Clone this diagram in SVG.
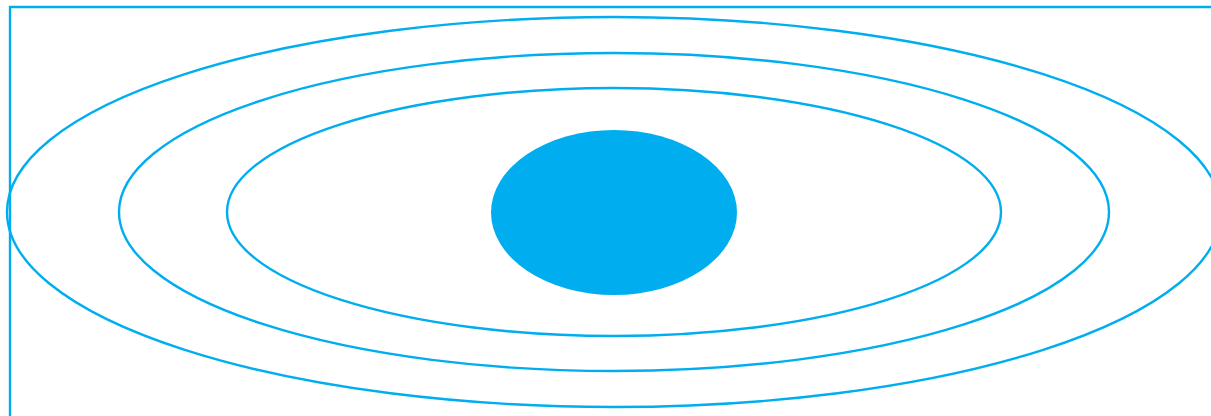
<svg xmlns="http://www.w3.org/2000/svg" width="1211" height="416" viewBox="0 0 1211 416">
<style>
.ring{fill:none;stroke:#00AEEF;stroke-width:2.4}
.core{fill:#00AEEF}
</style>
<rect width="1211" height="416" fill="#fff"/>
<g id="frame"><path d="M10,416 V7 H1211" class="ring"/></g>
<g id="orbit3"><ellipse cx="614" cy="212" rx="607" ry="195" class="ring"/></g>
<g id="orbit2"><ellipse cx="614" cy="212" rx="495" ry="159" class="ring"/></g>
<g id="orbit1"><ellipse cx="614" cy="212" rx="387" ry="124" class="ring"/></g>
<g id="core"><ellipse cx="614" cy="212.5" rx="123" ry="82.5" class="core"/></g>
<g id="connectors"></g>
</svg>
